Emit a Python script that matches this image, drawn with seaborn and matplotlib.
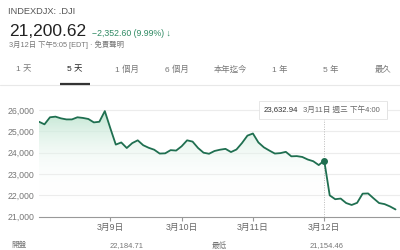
import numpy as np
import pandas as pd
import matplotlib
matplotlib.use("Agg")
import matplotlib.pyplot as plt
from matplotlib.colors import LinearSegmentedColormap
import seaborn as sns

# ---- data (30-minute steps over five trading days) ----
prices = [25450, 25330, 25660, 25690, 25610, 25560, 25560, 25660, 25630, 25580, 25420, 25450, 25950,
          25150, 24380, 24480, 24220, 24450, 24580, 24350, 24230, 24140, 23960, 23970, 24120, 24100,
          24300, 24580, 24520, 24220, 24000, 23950, 24080, 24140, 24180, 24030, 24150, 24450, 24800,
          24900, 24480, 24250, 24100, 23960, 23980, 24040, 23830, 23840, 23800, 23680, 23600, 23420,
          23632.94, 22000, 21820, 21850, 21640, 21550, 21650, 22080, 22090, 21860, 21640, 21590, 21480,
          21340]
steps = list(range(len(prices)))
day_ticks = [13, 26, 39, 52]
day_labels = ["3月9日", "3月10日", "3月11日", "3月12日"]
y_ticks = [21000, 22000, 23000, 24000, 25000, 26000]
y_labels = ["21,000", "22,000", "23,000", "24,000", "25,000", "26,000"]
tabs = ["1 天", "5 天", "1 個月", "6 個月", "本年迄今", "1 年", "5 年", "最久"]
hover_idx = 52
hover_label = "3月11日 週三 下午4:00"
last_price = "21,200.62"
change_text = "−2,352.60 (9.99%) ↓"
symbol = "INDEXDJX: .DJI"
time_note = "3月12日 下午5:05 [EDT] · 免責聲明"
stats = [("開盤", "22,184.71"), ("最低", "21,154.46")]

df = pd.DataFrame({"step": steps, "price": prices})

sns.set_theme(style="white")
plt.rcParams["font.family"] = ["Liberation Sans", "Noto Sans CJK TC", "DejaVu Sans"]

W, H = 400, 250
fig = plt.figure(figsize=(W / 100, H / 100), dpi=100)
fig.patch.set_facecolor("white")


def fx(x):
    return x / W


def fy(y):
    return 1 - y / H


ax_left, ax_right, ax_top, ax_bot = 39, 400, 100, 216.7
ax = fig.add_axes([fx(ax_left), fy(ax_bot), (ax_right - ax_left) / W, (ax_bot - ax_top) / H])
ax.set_facecolor("white")

line_color = "#1f6f50"
x_max = (ax_right - ax_left) / 5.485
ax.set_xlim(0, x_max)
ax.set_ylim(21000, 26470)

# grid
for yt in y_ticks[1:]:
    ax.axhline(yt, color="#ececec", lw=0.8, zorder=0)

# gradient fill under line
cmap = LinearSegmentedColormap.from_list(
    "g", [(1, 1, 1, 0), (0.75, 0.90, 0.82, 1.0)])
grad = np.linspace(0, 1, 256).reshape(-1, 1)
grad = np.clip((grad - 0.15) / 0.85, 0, 1) ** 1.3
im = ax.imshow(grad, extent=[0, x_max, 21000, 26000], origin="lower", aspect="auto",
               cmap=cmap, vmin=0, vmax=1, zorder=1)
poly = ax.fill_between(steps, prices, 21000, color="none", lw=0)
clip_path = poly.get_paths()[0]
im.set_clip_path(clip_path, transform=ax.transData)

sns.lineplot(data=df, x="step", y="price", ax=ax, color=line_color, lw=1.3, zorder=3)

# hover crosshair and marker
ax.axvline(hover_idx, ymin=0, ymax=(26300 - 21000) / 5470, color="#bbbbbb", lw=0.7,
           ls=(0, (1, 1.5)), zorder=2)
ax.plot([hover_idx], [prices[hover_idx]], "o", color=line_color, ms=4, zorder=4)

ax.set_xticks(day_ticks)
ax.set_xticklabels(day_labels)
ax.set_yticks(y_ticks)
ax.set_yticklabels(y_labels)
ax.tick_params(axis="x", length=3, width=0.8, color="#999999", labelsize=6.3,
               labelcolor="#666666", pad=1.5, direction="out", bottom=True)
ax.tick_params(axis="y", length=0, labelsize=6.3, labelcolor="#777777", pad=3)
ax.set_xlabel("")
ax.set_ylabel("")
for s in ["top", "right", "left"]:
    ax.spines[s].set_visible(False)
ax.spines["bottom"].set_color("#999999")
ax.spines["bottom"].set_linewidth(0.8)

# tooltip
tx0, ty0, tw, th = 259, 101.5, 128, 17
fig.patches.append(plt.Rectangle((fx(tx0 + 0.8), fy(ty0 + th + 0.8)), tw / W, th / H,
                                 transform=fig.transFigure, facecolor="#e4e4e4", edgecolor="none", zorder=5))
fig.patches.append(plt.Rectangle((fx(tx0), fy(ty0 + th)), tw / W, th / H,
                                 transform=fig.transFigure, facecolor="white", edgecolor="#dddddd",
                                 lw=0.5, zorder=6))
fig.text(fx(264), fy(110), f"{prices[hover_idx]:,.2f}", fontsize=5.6, color="#333333", va="center",
         ha="left", zorder=7)
fig.text(fx(303), fy(110), hover_label, fontsize=5.5, color="#666666", va="center", ha="left", zorder=7)

# header
fig.text(fx(8), fy(11), symbol, fontsize=6.7, color="#555555", va="center", ha="left")
fig.text(fx(9), fy(31.5), last_price, fontsize=12.5, color="#222222", va="center", ha="left")
fig.text(fx(92), fy(33.5), change_text, fontsize=6.3, color="#2f8a63", va="center", ha="left")
fig.text(fx(9), fy(45), time_note, fontsize=5.3, color="#777777", va="center", ha="left")

# tabs
tab_x = [24, 75, 127, 177, 230, 280, 331, 383]
for i, (t, x) in enumerate(zip(tabs, tab_x)):
    fig.text(fx(x), fy(70), t, fontsize=6, color="#222222" if i == 1 else "#777777",
             ha="center", va="center")
fig.add_artist(plt.Line2D([0, 1], [fy(84.5), fy(84.5)], transform=fig.transFigure,
                          color="#e8e8e8", lw=0.8))
fig.add_artist(plt.Line2D([fx(60), fx(90)], [fy(84), fy(84)], transform=fig.transFigure,
                          color="#333333", lw=1.6, solid_capstyle="butt"))

# bottom stats
stat_x = [(11, 110), (212, 310)]
for (lab, val), (xl, xv) in zip(stats, stat_x):
    fig.text(fx(xl), fy(242), lab, fontsize=5.5, color="#777777", ha="left", va="top")
    fig.text(fx(xv), fy(242), val, fontsize=5.5, color="#777777", ha="left", va="top")

fig.savefig("out.png", dpi=100, facecolor="white")
